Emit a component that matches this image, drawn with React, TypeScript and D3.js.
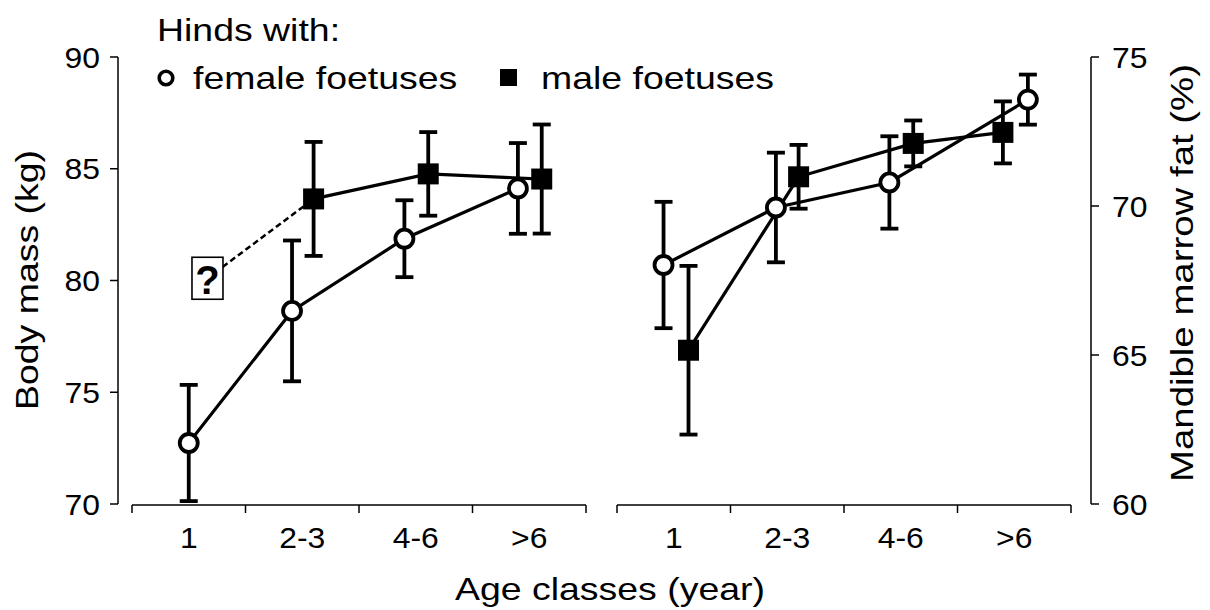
import React from 'react';
import * as d3 from 'd3';

// Age classes shared by both panels
const ageClasses = ['1', '2-3', '4-6', '>6'];

// Body mass (kg): means and error half-widths
const massFemaleMean = [72.73, 78.64, 81.87, 84.12];
const massFemaleErr = [2.6, 3.15, 1.72, 2.03];
const massMaleMean = [null, 83.65, 84.77, 84.54];
const massMaleErr = [null, 2.55, 1.87, 2.44];
// placeholder level for the unknown male value of the youngest class
const massMaleUnknown = 80.1;

// Mandible marrow fat (%): means and error half-widths
const fatFemaleMean = [68.02, 69.95, 70.79, 73.57];
const fatFemaleErr = [2.12, 1.84, 1.55, 0.84];
const fatMaleMean = [65.16, 70.98, 72.1, 72.47];
const fatMaleErr = [2.83, 1.07, 0.77, 1.04];

// horizontal dodge within each class (fraction of class width)
const massFemaleDodge = [0, -0.09, -0.1, -0.1];
const massMaleDodge = [0.165, 0.1, 0.11, 0.11];
const fatFemaleDodge = [-0.09, -0.1, -0.1, 0.12];
const fatMaleDodge = [0.13, 0.1, 0.11, -0.1];

const massTicks = [70, 75, 80, 85, 90];
const fatTicks = [60, 65, 70, 75];

const FONT = 'Liberation Sans, Arial, Helvetica, sans-serif';
const TXT_SX = 1.17;
const TICK_SX = 1.08;

type Pt = { x: number; y: number; lo: number; hi: number };

function WideText({ x, y, children, size, anchor = 'start', sx = TXT_SX, rotate = 0, weight = 'normal' }: any) {
  const t = `translate(${x},${y})${rotate ? ` rotate(${rotate})` : ''} scale(${sx},1)`;
  return (
    <g transform={t}>
      <text x={0} y={0} fontSize={size} fontFamily={FONT} textAnchor={anchor} fontWeight={weight} fill="#000">
        {children}
      </text>
    </g>
  );
}

function Series({ pts }: { pts: Pt[] }) {
  const line = d3.line<Pt>().x((d) => d.x).y((d) => d.y);
  return <path d={line(pts) || ''} fill="none" stroke="#000" strokeWidth={3.2} />;
}

function ErrorBars({ pts }: { pts: Pt[] }) {
  const cap = 9;
  return (
    <g stroke="#000" strokeWidth={3.8} fill="none">
      {pts.map((p, i) => (
        <g key={i}>
          <line x1={p.x} x2={p.x} y1={p.hi} y2={p.lo} />
          <line x1={p.x - cap} x2={p.x + cap} y1={p.hi} y2={p.hi} />
          <line x1={p.x - cap} x2={p.x + cap} y1={p.lo} y2={p.lo} />
        </g>
      ))}
    </g>
  );
}

function Markers({ pts, marker }: { pts: Pt[]; marker: 'circle' | 'square' }) {
  return (
    <g>
      {pts.map((p, i) =>
        marker === 'circle' ? (
          <circle key={i} cx={p.x} cy={p.y} r={9} fill="#fff" stroke="#000" strokeWidth={3.8} />
        ) : (
          <rect key={i} x={p.x - 10.5} y={p.y - 10.5} width={21} height={21} fill="#000" />
        )
      )}
    </g>
  );
}

function XAxis({ x, y0 }: { x: d3.ScaleBand<string>; y0: number }) {
  const [a, b] = x.range();
  const bounds = [a, ...ageClasses.map((c) => (x(c) as number) + x.bandwidth())];
  return (
    <g>
      <line x1={a} x2={b} y1={y0} y2={y0} stroke="#000" strokeWidth={1.5} />
      {bounds.map((bx, i) => (
        <line key={i} x1={bx} x2={bx} y1={y0} y2={y0 + 8} stroke="#000" strokeWidth={1.5} />
      ))}
      {ageClasses.map((c) => (
        <WideText key={c} x={(x(c) as number) + x.bandwidth() / 2} y={y0 + 43} size={29.5} anchor="middle" sx={TICK_SX}>
          {c}
        </WideText>
      ))}
    </g>
  );
}

function YAxis({ y, ticks, x0, side }: { y: d3.ScaleLinear<number, number>; ticks: number[]; x0: number; side: 'left' | 'right' }) {
  const [r0, r1] = y.range();
  const dir = side === 'left' ? -1 : 1;
  return (
    <g>
      <line x1={x0} x2={x0} y1={r0} y2={r1} stroke="#000" strokeWidth={1.5} />
      {ticks.map((t) => (
        <g key={t}>
          <line x1={x0} x2={x0 + dir * 8} y1={y(t)} y2={y(t)} stroke="#000" strokeWidth={1.5} />
          <WideText
            x={side === 'left' ? x0 - 18 : x0 + 21}
            y={y(t) + 10.5}
            size={29.5}
            anchor={side === 'left' ? 'end' : 'start'}
            sx={TICK_SX}
          >
            {t}
          </WideText>
        </g>
      ))}
    </g>
  );
}

export default function App() {
  const xMass = d3.scaleBand<string>().domain(ageClasses).range([132, 586]).paddingInner(0).paddingOuter(0);
  const xFat = d3.scaleBand<string>().domain(ageClasses).range([617, 1071]).paddingInner(0).paddingOuter(0);
  const yMass = d3.scaleLinear().domain([70, 90]).range([504, 57]);
  const yFat = d3.scaleLinear().domain([60, 75]).range([504, 57]);

  const place = (
    x: d3.ScaleBand<string>,
    y: d3.ScaleLinear<number, number>,
    mean: (number | null)[],
    err: (number | null)[],
    dodge: number[]
  ): Pt[] =>
    ageClasses
      .map((c, i) => {
        const m = mean[i];
        const e = err[i];
        if (m == null || e == null) return null;
        return {
          x: (x(c) as number) + x.bandwidth() * (0.5 + dodge[i]),
          y: y(m),
          hi: y(m + e),
          lo: y(m - e),
        };
      })
      .filter((p): p is Pt => p !== null);

  const massF = place(xMass, yMass, massFemaleMean, massFemaleErr, massFemaleDodge);
  const massM = place(xMass, yMass, massMaleMean, massMaleErr, massMaleDodge);
  const fatF = place(xFat, yFat, fatFemaleMean, fatFemaleErr, fatFemaleDodge);
  const fatM = place(xFat, yFat, fatMaleMean, fatMaleErr, fatMaleDodge);

  // unknown male body mass in the youngest class
  const qx = (xMass(ageClasses[0]) as number) + xMass.bandwidth() * (0.5 + massMaleDodge[0]);
  const qy = yMass(massMaleUnknown);
  const firstMale = massM[0];

  return (
    <svg width={1210} height={610} style={{ position: 'absolute', left: 0, top: 0, background: '#fff' }}>
      <rect x={0} y={0} width={1210} height={610} fill="#fff" />

      {/* legend */}
      <WideText x={157} y={41} size={32}>Hinds with:</WideText>
      <circle cx={166} cy={78} r={6.8} fill="#fff" stroke="#000" strokeWidth={3.6} />
      <WideText x={193} y={89} size={32}>female foetuses</WideText>
      <rect x={500} y={69} width={17} height={17} fill="#000" />
      <WideText x={541} y={89} size={32}>male foetuses</WideText>

      {/* axes */}
      <YAxis y={yMass} ticks={massTicks} x0={118} side="left" />
      <YAxis y={yFat} ticks={fatTicks} x0={1091} side="right" />
      <XAxis x={xMass} y0={505} />
      <XAxis x={xFat} y0={505} />

      {/* axis titles */}
      <WideText x={38} y={280} size={32} anchor="middle" rotate={-90}>Body mass (kg)</WideText>
      <WideText x={1193} y={273} size={32} anchor="middle" rotate={-90} sx={1.2}>Mandible marrow fat (%)</WideText>
      <WideText x={610} y={600} size={32} anchor="middle">Age classes (year)</WideText>

      {/* body mass panel */}
      <line x1={qx} y1={qy} x2={firstMale.x} y2={firstMale.y} stroke="#000" strokeWidth={2.5} strokeDasharray="6,3.5" />
      <Series pts={massM} />
      <Series pts={massF} />
      <ErrorBars pts={massM} />
      <ErrorBars pts={massF} />
      <Markers pts={massM} marker="square" />
      <Markers pts={massF} marker="circle" />
      <rect x={qx - 15.5} y={qy - 21} width={31} height={42} fill="#fff" stroke="#000" strokeWidth={1.6} />
      <text x={qx} y={qy + 16} fontSize={40} fontWeight="bold" fontFamily={FONT} textAnchor="middle">?</text>

      {/* marrow fat panel */}
      <Series pts={fatM} />
      <Series pts={fatF} />
      <ErrorBars pts={fatM} />
      <ErrorBars pts={fatF} />
      <Markers pts={fatM} marker="square" />
      <Markers pts={fatF} marker="circle" />
    </svg>
  );
}
